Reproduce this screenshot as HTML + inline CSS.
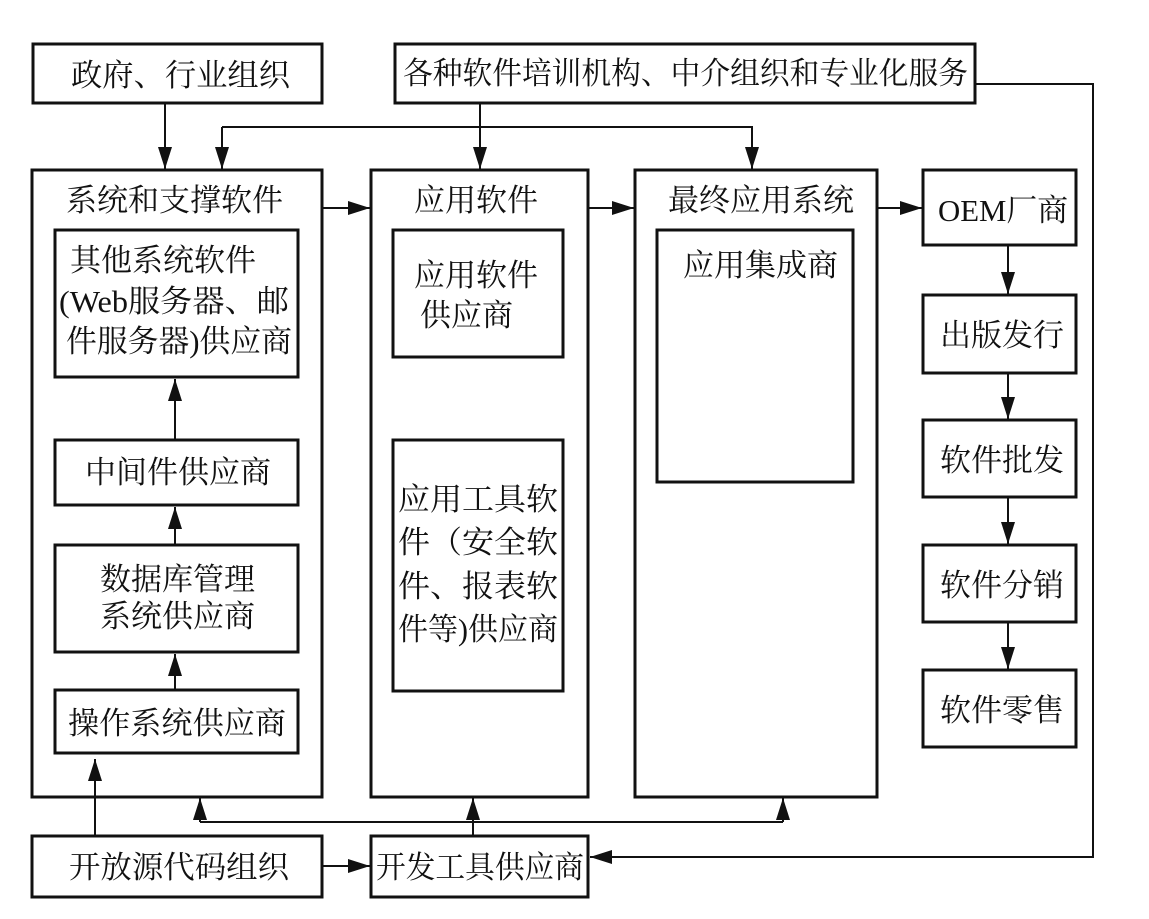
<!DOCTYPE html>
<html><head><meta charset="utf-8"><style>
html,body{margin:0;padding:0;background:#fff}
svg text{font-family:"Liberation Serif","Noto Serif CJK SC",serif;font-size:31px;fill:#111}
</style></head><body>
<svg width="1149" height="914" viewBox="0 0 1149 914" xmlns="http://www.w3.org/2000/svg">
<defs>
<marker id="b" markerWidth="22" markerHeight="14" refX="22" refY="7" orient="auto" markerUnits="userSpaceOnUse" viewBox="0 0 22 14"><path d="M0,0 L22,7 L0,14 z" fill="#111"/></marker></defs>
<g fill="none" stroke="#111" stroke-width="3">
<rect x="33" y="44" width="289" height="59"/>
<rect x="395" y="44" width="580" height="59"/>
<rect x="32" y="170" width="290" height="627"/>
<rect x="371" y="170" width="217" height="627"/>
<rect x="635" y="170" width="242" height="627"/>
<rect x="923" y="170" width="153" height="75"/>
<rect x="923" y="295" width="153" height="78"/>
<rect x="923" y="420" width="153" height="77"/>
<rect x="923" y="545" width="153" height="77"/>
<rect x="923" y="670" width="153" height="77"/>
<rect x="55" y="230" width="243" height="147"/>
<rect x="55" y="440" width="243" height="65"/>
<rect x="55" y="545" width="243" height="107"/>
<rect x="55" y="690" width="243" height="63"/>
<rect x="393" y="230" width="170" height="127"/>
<rect x="393" y="440" width="170" height="251"/>
<rect x="657" y="230" width="196" height="252"/>
<rect x="32" y="836" width="290" height="61"/>
<rect x="371" y="836" width="217" height="61"/>
</g>
<g fill="none" stroke="#111" stroke-width="2">
<line x1="165" y1="103" x2="165" y2="169" marker-end="url(#b)"/>
<line x1="480" y1="103" x2="480" y2="169" marker-end="url(#b)"/>
<polyline points="222,127 752,127 752,169" marker-end="url(#b)"/>
<path d="M222,127 L222,169" marker-end="url(#b)"/>
<line x1="322" y1="208" x2="370" y2="208" marker-end="url(#b)"/>
<line x1="588" y1="208" x2="634" y2="208" marker-end="url(#b)"/>
<line x1="877" y1="208" x2="922" y2="208" marker-end="url(#b)"/>
<line x1="1008" y1="245" x2="1008" y2="294" marker-end="url(#b)"/>
<line x1="1008" y1="373" x2="1008" y2="419" marker-end="url(#b)"/>
<line x1="1008" y1="497" x2="1008" y2="544" marker-end="url(#b)"/>
<line x1="1008" y1="622" x2="1008" y2="669" marker-end="url(#b)"/>
<line x1="175" y1="440" x2="175" y2="379" marker-end="url(#b)"/>
<line x1="175" y1="545" x2="175" y2="507" marker-end="url(#b)"/>
<line x1="175" y1="690" x2="175" y2="654" marker-end="url(#b)"/>
<line x1="95" y1="836" x2="95" y2="759" marker-end="url(#b)"/>
<line x1="473" y1="836" x2="473" y2="798" marker-end="url(#b)"/>
<polyline points="200,822 783,822"/>
<line x1="200" y1="822" x2="200" y2="798" marker-end="url(#b)"/>
<line x1="783" y1="822" x2="783" y2="798" marker-end="url(#b)"/>
<line x1="322" y1="866" x2="370" y2="866" marker-end="url(#b)"/>
<polyline points="975,84 1093,84 1093,857 590,857" marker-end="url(#b)"/>
</g>
<text x="71" y="86" textLength="219" lengthAdjust="spacingAndGlyphs">政府、行业组织</text>
<text x="403" y="84" textLength="565" lengthAdjust="spacingAndGlyphs">各种软件培训机构、中介组织和专业化服务</text>
<text x="66" y="211">系统和支撑软件</text>
<text x="414" y="211">应用软件</text>
<text x="668" y="211">最终应用系统</text>
<text x="938" y="221" textLength="130" lengthAdjust="spacingAndGlyphs">OEM厂商</text>
<text x="940" y="346">出版发行</text>
<text x="940" y="471">软件批发</text>
<text x="940" y="596">软件分销</text>
<text x="940" y="721">软件零售</text>
<text x="70" y="271">其他系统软件</text>
<text x="59" y="312" textLength="230" lengthAdjust="spacingAndGlyphs">(Web服务器、邮</text>
<text x="66" y="352" textLength="226" lengthAdjust="spacingAndGlyphs">件服务器)供应商</text>
<text x="85" y="483">中间件供应商</text>
<text x="100" y="590">数据库管理</text>
<text x="100" y="627">系统供应商</text>
<text x="68" y="734" textLength="218" lengthAdjust="spacingAndGlyphs">操作系统供应商</text>
<text x="414" y="286">应用软件</text>
<text x="420" y="326">供应商</text>
<text x="398" y="510" textLength="160" lengthAdjust="spacingAndGlyphs">应用工具软</text>
<text x="398" y="553" textLength="160" lengthAdjust="spacingAndGlyphs">件（安全软</text>
<text x="398" y="597" textLength="160" lengthAdjust="spacingAndGlyphs">件、报表软</text>
<text x="398" y="640" textLength="160" lengthAdjust="spacingAndGlyphs">件等)供应商</text>
<text x="683" y="276">应用集成商</text>
<text x="69" y="878" textLength="220" lengthAdjust="spacingAndGlyphs">开放源代码组织</text>
<text x="376" y="878" textLength="208" lengthAdjust="spacingAndGlyphs">开发工具供应商</text>
</svg>
</body></html>
